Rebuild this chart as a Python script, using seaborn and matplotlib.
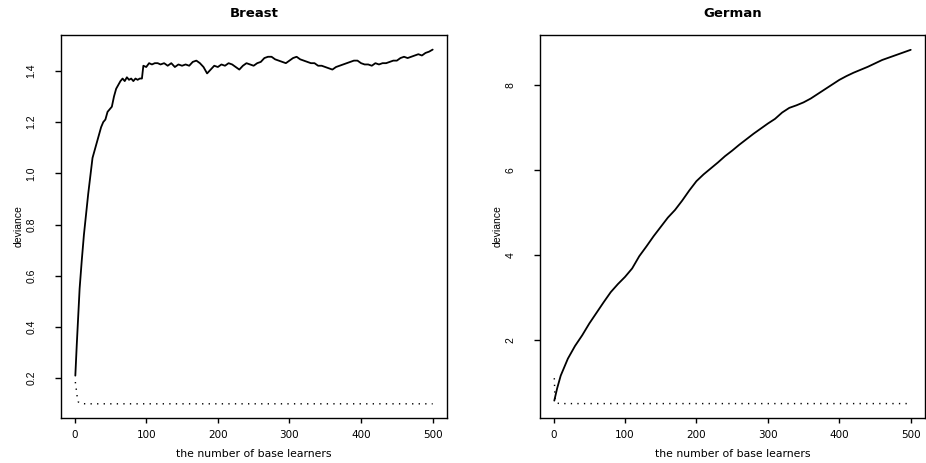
import matplotlib
matplotlib.use("Agg")
import matplotlib.pyplot as plt
import seaborn as sns
import pandas as pd

# ---- Breast: test deviance (solid) and training deviance (dotted) ----
breast_x = [1, 3, 5, 7, 10, 13, 16, 19, 22, 25, 28, 31, 34, 37, 40, 43, 46, 49,
            52, 55, 58, 61, 64, 67, 70, 73, 76, 79, 82, 85, 88, 91, 94, 96, 100,
            104, 108, 112, 116, 120, 125, 130, 135, 140, 145, 150, 155, 160, 165,
            170, 175, 180, 185, 190, 195, 200, 205, 210, 215, 220, 225, 230, 235,
            240, 245, 250, 255, 260, 265, 270, 275, 280, 285, 290, 295, 300, 305,
            310, 315, 320, 325, 330, 335, 340, 345, 350, 355, 360, 365, 370, 375,
            380, 385, 390, 395, 400, 405, 410, 415, 420, 425, 430, 435, 440, 445,
            450, 455, 460, 465, 470, 475, 480, 485, 490, 495, 500]
breast_test = [0.21, 0.33, 0.44, 0.55, 0.66, 0.76, 0.84, 0.92, 0.99, 1.06, 1.09,
               1.12, 1.15, 1.18, 1.20, 1.21, 1.24, 1.25, 1.26, 1.30, 1.33, 1.345,
               1.36, 1.37, 1.36, 1.375, 1.365, 1.37, 1.36, 1.37, 1.365, 1.37, 1.37,
               1.42, 1.415, 1.43, 1.425, 1.43, 1.43, 1.425, 1.43, 1.42, 1.43, 1.415,
               1.425, 1.42, 1.425, 1.42, 1.435, 1.44, 1.43, 1.415, 1.39, 1.405,
               1.42, 1.415, 1.425, 1.42, 1.43, 1.425, 1.415, 1.405, 1.42, 1.43,
               1.425, 1.42, 1.43, 1.435, 1.45, 1.455, 1.455, 1.445, 1.44, 1.435,
               1.43, 1.44, 1.45, 1.455, 1.445, 1.44, 1.435, 1.43, 1.43, 1.42, 1.42,
               1.415, 1.41, 1.405, 1.415, 1.42, 1.425, 1.43, 1.435, 1.44, 1.44,
               1.43, 1.425, 1.425, 1.42, 1.43, 1.425, 1.43, 1.43, 1.435, 1.44,
               1.44, 1.45, 1.455, 1.45, 1.455, 1.46, 1.465, 1.46, 1.47, 1.475, 1.483]
breast_train_x = [1, 2, 3, 4, 5, 7, 10, 15, 500]
breast_train = [0.185, 0.165, 0.14, 0.12, 0.108, 0.103, 0.101, 0.100, 0.100]

# ---- German: test deviance (solid) and training deviance (dotted) ----
german_x = [1, 5, 10, 20, 30, 40, 50, 60, 70, 80, 90, 100, 110, 120, 130, 140,
            150, 160, 170, 180, 190, 200, 210, 220, 230, 240, 250, 260, 270, 280,
            290, 300, 310, 320, 330, 340, 350, 360, 370, 380, 390, 400, 410, 420,
            430, 440, 450, 460, 470, 480, 490, 500]
german_test = [0.56, 0.85, 1.15, 1.55, 1.85, 2.10, 2.38, 2.63, 2.88, 3.12, 3.31,
               3.48, 3.68, 3.97, 4.20, 4.44, 4.66, 4.88, 5.06, 5.28, 5.52, 5.74,
               5.90, 6.04, 6.18, 6.33, 6.46, 6.60, 6.73, 6.86, 6.98, 7.10, 7.21,
               7.36, 7.47, 7.53, 7.60, 7.69, 7.80, 7.91, 8.02, 8.13, 8.22, 8.30,
               8.37, 8.44, 8.52, 8.60, 8.66, 8.72, 8.78, 8.84]
german_train_x = [1, 2, 3, 5, 10, 500]
german_train = [1.09, 0.62, 0.53, 0.50, 0.49, 0.49]

x_ticks = [0, 100, 200, 300, 400, 500]
breast_yticks = [0.2, 0.4, 0.6, 0.8, 1.0, 1.2, 1.4]
german_yticks = [2, 4, 6, 8]

sns.set_style("ticks")
plt.rcParams["font.family"] = ["Liberation Sans", "DejaVu Sans"]
plt.rcParams["text.color"] = "black"
plt.rcParams["axes.labelcolor"] = "black"
plt.rcParams["xtick.color"] = "black"
plt.rcParams["ytick.color"] = "black"

W, H = 926, 463
fig = plt.figure(figsize=(W / 100, H / 100), dpi=100)
ax1 = fig.add_axes([61 / W, 45 / H, 386 / W, 383 / H])
ax2 = fig.add_axes([540 / W, 45 / H, 385 / W, 383 / H])

dotted = (0, (0.9, 3.6))
narrow = ["Liberation Sans Narrow", "Liberation Sans"]
wide = ["DejaVu Sans"]

panels = [
    (ax1, "Breast", breast_x, breast_test, breast_train_x, breast_train,
     breast_yticks, ["0.2", "0.4", "0.6", "0.8", "1.0", "1.2", "1.4"], (0.0446, 1.540)),
    (ax2, "German", german_x, german_test, german_train_x, german_train,
     german_yticks, ["2", "4", "6", "8"], (0.15, 9.19)),
]

for ax, title, tx, ty, rx, ry, yt, ytl, ylim in panels:
    test_df = pd.DataFrame({"learners": tx, "deviance": ty})
    train_df = pd.DataFrame({"learners": rx, "deviance": ry})
    sns.lineplot(data=test_df, x="learners", y="deviance", ax=ax,
                 color="black", linewidth=1.3, estimator=None)
    sns.lineplot(data=train_df, x="learners", y="deviance", ax=ax,
                 color="black", linewidth=1.05, linestyle=dotted, estimator=None)
    ax.set_xlim(-19, 520)
    ax.set_ylim(*ylim)
    ax.set_xticks(x_ticks)
    ax.set_xticklabels([str(v) for v in x_ticks])
    ax.set_yticks(yt)
    ax.set_yticklabels(ytl, rotation=90, va="center")
    for s in ax.spines.values():
        s.set_visible(True)
        s.set_color("black")
        s.set_linewidth(1.0)
    ax.tick_params(axis="x", length=3.4, width=1.0, pad=5, labelsize=7.5,
                   colors="black")
    ax.tick_params(axis="y", length=4.5, width=1.0, pad=13, labelsize=7.5,
                   colors="black")
    for lab in ax.get_xticklabels():
        lab.set_fontfamily(wide)
    for lab in ax.get_yticklabels():
        lab.set_fontfamily(narrow)
    ax.set_xlabel("the number of base learners", fontsize=7.8, labelpad=7,
                  color="black", fontfamily=wide)
    ax.set_ylabel("deviance", fontsize=7.5, labelpad=2, color="black",
                  fontfamily=narrow)
    ax.set_title(title, fontsize=9.5, fontweight="bold", pad=13, color="black",
                 fontfamily=wide)

fig.savefig("out.png", dpi=100)
